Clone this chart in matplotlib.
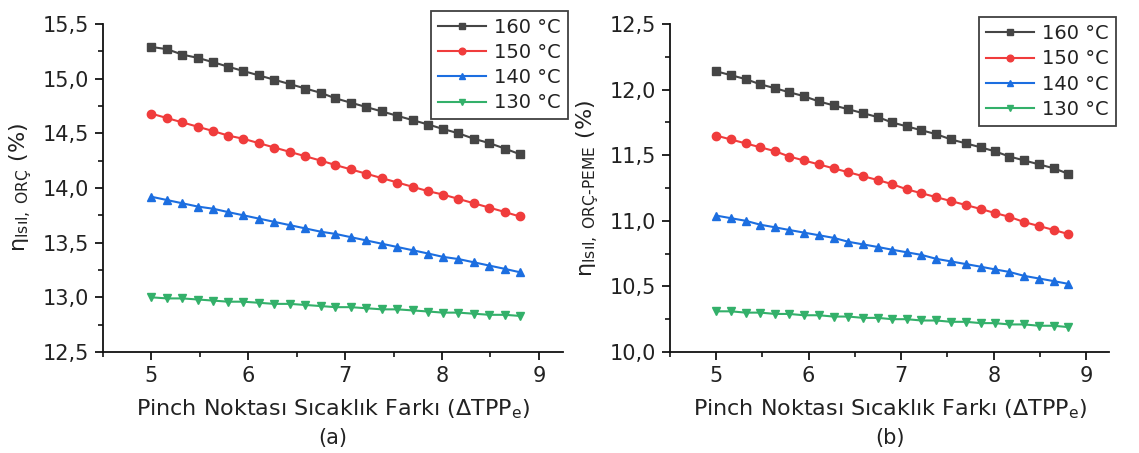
import matplotlib
matplotlib.use('Agg')
import matplotlib.pyplot as plt
from matplotlib.ticker import MultipleLocator, FuncFormatter

plt.rcParams['font.family'] = ['DejaVu Sans']
plt.rcParams['mathtext.fontset'] = 'dejavusans'

# pinch point temperature difference
dtpp = [5.00, 5.16, 5.32, 5.48, 5.64, 5.79, 5.95, 6.11, 6.27, 6.43, 6.59, 6.75, 6.90,
        7.06, 7.22, 7.38, 7.54, 7.70, 7.86, 8.01, 8.17, 8.33, 8.49, 8.65, 8.80]

labels = ['160 °C', '150 °C', '140 °C', '130 °C']

# (a) ORC exergy efficiency
orc_160 = [15.29, 15.27, 15.22, 15.19, 15.15, 15.11, 15.07, 15.03, 14.99, 14.95, 14.91, 14.87, 14.82,
           14.78, 14.74, 14.70, 14.66, 14.62, 14.58, 14.54, 14.50, 14.45, 14.41, 14.36, 14.31]
orc_150 = [14.68, 14.64, 14.60, 14.56, 14.52, 14.48, 14.45, 14.41, 14.37, 14.33, 14.29, 14.25, 14.21,
           14.17, 14.13, 14.09, 14.05, 14.01, 13.97, 13.94, 13.90, 13.86, 13.82, 13.78, 13.74]
orc_140 = [13.92, 13.89, 13.86, 13.83, 13.81, 13.78, 13.75, 13.72, 13.69, 13.66, 13.63, 13.60, 13.58,
           13.55, 13.52, 13.49, 13.46, 13.43, 13.40, 13.37, 13.35, 13.32, 13.29, 13.26, 13.23]
orc_130 = [13.00, 12.99, 12.99, 12.98, 12.97, 12.96, 12.96, 12.95, 12.94, 12.94, 12.93, 12.92, 12.91,
           12.91, 12.90, 12.89, 12.89, 12.88, 12.87, 12.86, 12.86, 12.85, 12.84, 12.84, 12.83]

# (b) ORC-PEME exergy efficiency
peme_160 = [12.14, 12.11, 12.08, 12.04, 12.01, 11.98, 11.95, 11.91, 11.88, 11.85, 11.82, 11.79, 11.75,
            11.72, 11.69, 11.66, 11.62, 11.59, 11.56, 11.53, 11.49, 11.46, 11.43, 11.40, 11.36]
peme_150 = [11.65, 11.62, 11.59, 11.56, 11.53, 11.49, 11.46, 11.43, 11.40, 11.37, 11.34, 11.31, 11.28,
            11.24, 11.21, 11.18, 11.15, 11.12, 11.09, 11.06, 11.03, 10.99, 10.96, 10.93, 10.90]
peme_140 = [11.04, 11.02, 11.00, 10.97, 10.95, 10.93, 10.91, 10.89, 10.87, 10.84, 10.82, 10.80, 10.78,
            10.76, 10.74, 10.71, 10.69, 10.67, 10.65, 10.63, 10.61, 10.58, 10.56, 10.54, 10.52]
peme_130 = [10.31, 10.31, 10.30, 10.30, 10.29, 10.29, 10.28, 10.28, 10.27, 10.27, 10.26, 10.26, 10.25,
            10.25, 10.24, 10.24, 10.23, 10.23, 10.22, 10.22, 10.21, 10.21, 10.20, 10.20, 10.19]

colors = ['#454545', '#f03c3c', '#1c6ee0', '#33b06a']
markers = ['s', 'o', '^', 'v']
txt = '#222222'

fig = plt.figure(figsize=(11.39, 4.53), dpi=100)
ax1 = fig.add_axes([0.0904, 0.223, 0.404, 0.724])
ax2 = fig.add_axes([0.588, 0.223, 0.386, 0.724])

comma = FuncFormatter(lambda v, p: f'{v:.1f}'.replace('.', ','))


def draw(ax, series, ylim, ylabel, panel, legend_box):
    for s, c, m, lab in zip(series, colors, markers, labels):
        ax.plot(dtpp, s, color=c, marker=m, markersize=6, linewidth=1.5, label=lab)
    ax.set_xlim(4.5, 9.25)
    ax.set_ylim(*ylim)
    ax.spines['top'].set_visible(False)
    ax.spines['right'].set_visible(False)
    for sp in ('left', 'bottom'):
        ax.spines[sp].set_linewidth(1.3)
        ax.spines[sp].set_color('#111111')
    ax.xaxis.set_major_locator(MultipleLocator(1))
    ax.xaxis.set_minor_locator(MultipleLocator(0.5))
    ax.yaxis.set_major_locator(MultipleLocator(0.5))
    ax.yaxis.set_minor_locator(MultipleLocator(0.25))
    ax.yaxis.set_major_formatter(comma)
    ax.tick_params(which='major', direction='out', length=6, width=1.2, labelsize=15,
                   labelcolor=txt, pad=4)
    ax.tick_params(which='minor', direction='out', length=3.5, width=1.1)
    ax.set_xlabel(r'Pinch Noktası Sıcaklık Farkı ($\Delta$TPP$_{\mathrm{e}}$)',
                  fontsize=16, color=txt, labelpad=8)
    ax.set_ylabel(ylabel, fontsize=16, color=txt, labelpad=6)
    ax.text(0.5, -0.262, panel, transform=ax.transAxes, ha='center', va='center',
            fontsize=15, color=txt)
    leg = ax.legend(loc='upper right', bbox_to_anchor=legend_box, frameon=True,
                    fancybox=False, edgecolor='#111111', fontsize=14, handlelength=2.5,
                    labelspacing=0.32, borderpad=0.35, handletextpad=0.4, markerscale=0.8,
                    labelcolor=txt, borderaxespad=0)
    leg.get_frame().set_linewidth(1.3)


draw(ax1, [orc_160, orc_150, orc_140, orc_130], (12.5, 15.5),
     r'η$_{\mathrm{Isıl,\ ORÇ}}$ (%)', '(a)', (1.01, 1.04))
draw(ax2, [peme_160, peme_150, peme_140, peme_130], (10.0, 12.5),
     r'η$_{\mathrm{Isıl,\ ORÇ\text{-}PEME}}$ (%)', '(b)', (1.014, 1.02))

fig.savefig('out.png', dpi=100)
